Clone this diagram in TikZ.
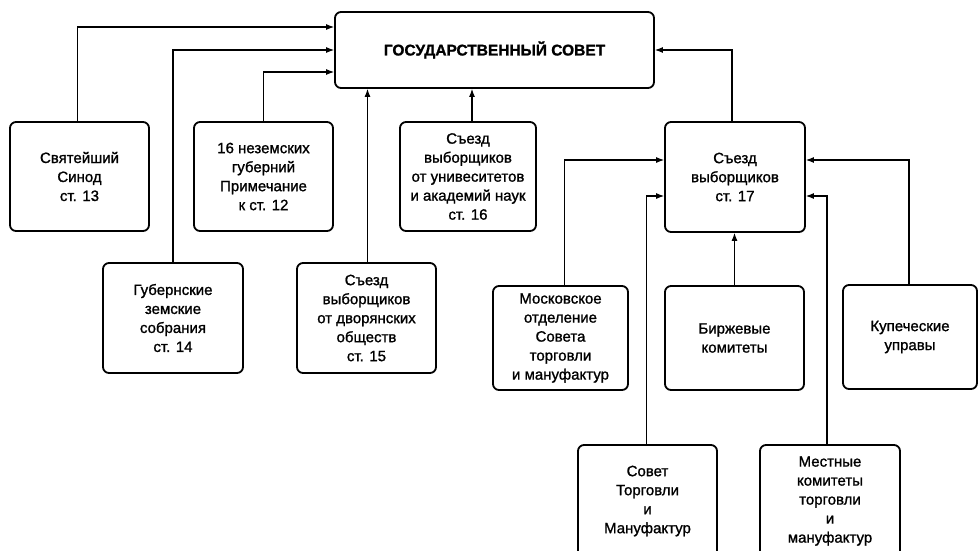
\documentclass[tikz,border=0pt]{standalone}
\usepackage{fontspec}
\setmainfont{Liberation Sans}[FakeBold=1.2]
\usetikzlibrary{arrows.meta}
\begin{document}
\begin{tikzpicture}[x=1pt,y=-1pt,
  box/.style={draw, line width=1.8pt, rounded corners=6pt, align=center,
    inner sep=0pt, font=\fontsize{15}{19}\selectfont},
  conn/.style={line width=1.1pt, -{Latex[length=8pt,width=6pt]}}]
\clip (0,0) rectangle (979,550);
\fill[white] (0,0) rectangle (979,550);
% boxes
\node[box, minimum width=319pt, minimum height=76pt, font=\fontsize{15.5}{19}\selectfont\bfseries] (gs) at (494.5,50) {ГОСУДАРСТВЕННЫЙ СОВЕТ};
\node[box, minimum width=139pt, minimum height=109pt] (synod) at (79.5,176.5) {Святейший\\Синод\\ст. 13};
\node[box, minimum width=139pt, minimum height=109pt] (nez) at (263.5,176.5) {16 неземских\\губерний\\Примечание\\к ст. 12};
\node[box, minimum width=136pt, minimum height=109pt] (univ) at (468,176.5) {Съезд\\выборщиков\\от унивеситетов\\и академий наук\\ст. 16};
\node[box, minimum width=140pt, minimum height=110pt] (s17) at (735,177) {Съезд\\выборщиков\\ст. 17};
\node[box, minimum width=140pt, minimum height=110pt] (gub) at (173,318) {Губернские\\земские\\собрания\\ст. 14};
\node[box, minimum width=139pt, minimum height=110pt] (dvor) at (366.5,318) {Съезд\\выборщиков\\от дворянских\\обществ\\ст. 15};
\node[box, minimum width=135pt, minimum height=104pt] (mosk) at (560.5,338) {Московское\\отделение\\Совета\\торговли\\и мануфактур};
\node[box, minimum width=139pt, minimum height=104pt] (birzh) at (734.5,338) {Биржевые\\комитеты};
\node[box, minimum width=134pt, minimum height=104pt] (kupech) at (910,337) {Купеческие\\управы};
\node[box, minimum width=139pt, minimum height=112pt] (sovet) at (647.5,501) {Совет\\Торговли\\и\\Мануфактур};
\node[box, minimum width=140pt, minimum height=112pt] (mest) at (830,501) {Местные\\комитеты\\торговли\\и\\мануфактур};
% connectors to gs
\draw[conn] ([xshift=-2pt]synod.north) |- ([yshift=23pt]gs.west);
\draw[conn] (gub.north) |- (gs.west);
\draw[conn] (nez.north) |- ([yshift=-22pt]gs.west);
\draw[conn] ([xshift=1pt]dvor.north) -- ([xshift=1pt]dvor.north |- gs.south);
\draw[conn] ([xshift=4pt]univ.north) -- ([xshift=4pt]univ.north |- gs.south);
\draw[conn] ([xshift=-3pt]s17.north) |- (gs.east);
% connectors to s17
\draw[conn] ([xshift=4pt]mosk.north) |- ([yshift=17pt]s17.west);
\draw[conn] ([xshift=-1pt]sovet.north) |- ([yshift=-19pt]s17.west);
\draw[conn] (birzh.north) -- (birzh.north |- s17.south);
\draw[conn] ([xshift=-1pt]kupech.north) |- ([yshift=17pt]s17.east);
\draw[conn] ([xshift=-3pt]mest.north) |- ([yshift=-19pt]s17.east);
\end{tikzpicture}
\end{document}
